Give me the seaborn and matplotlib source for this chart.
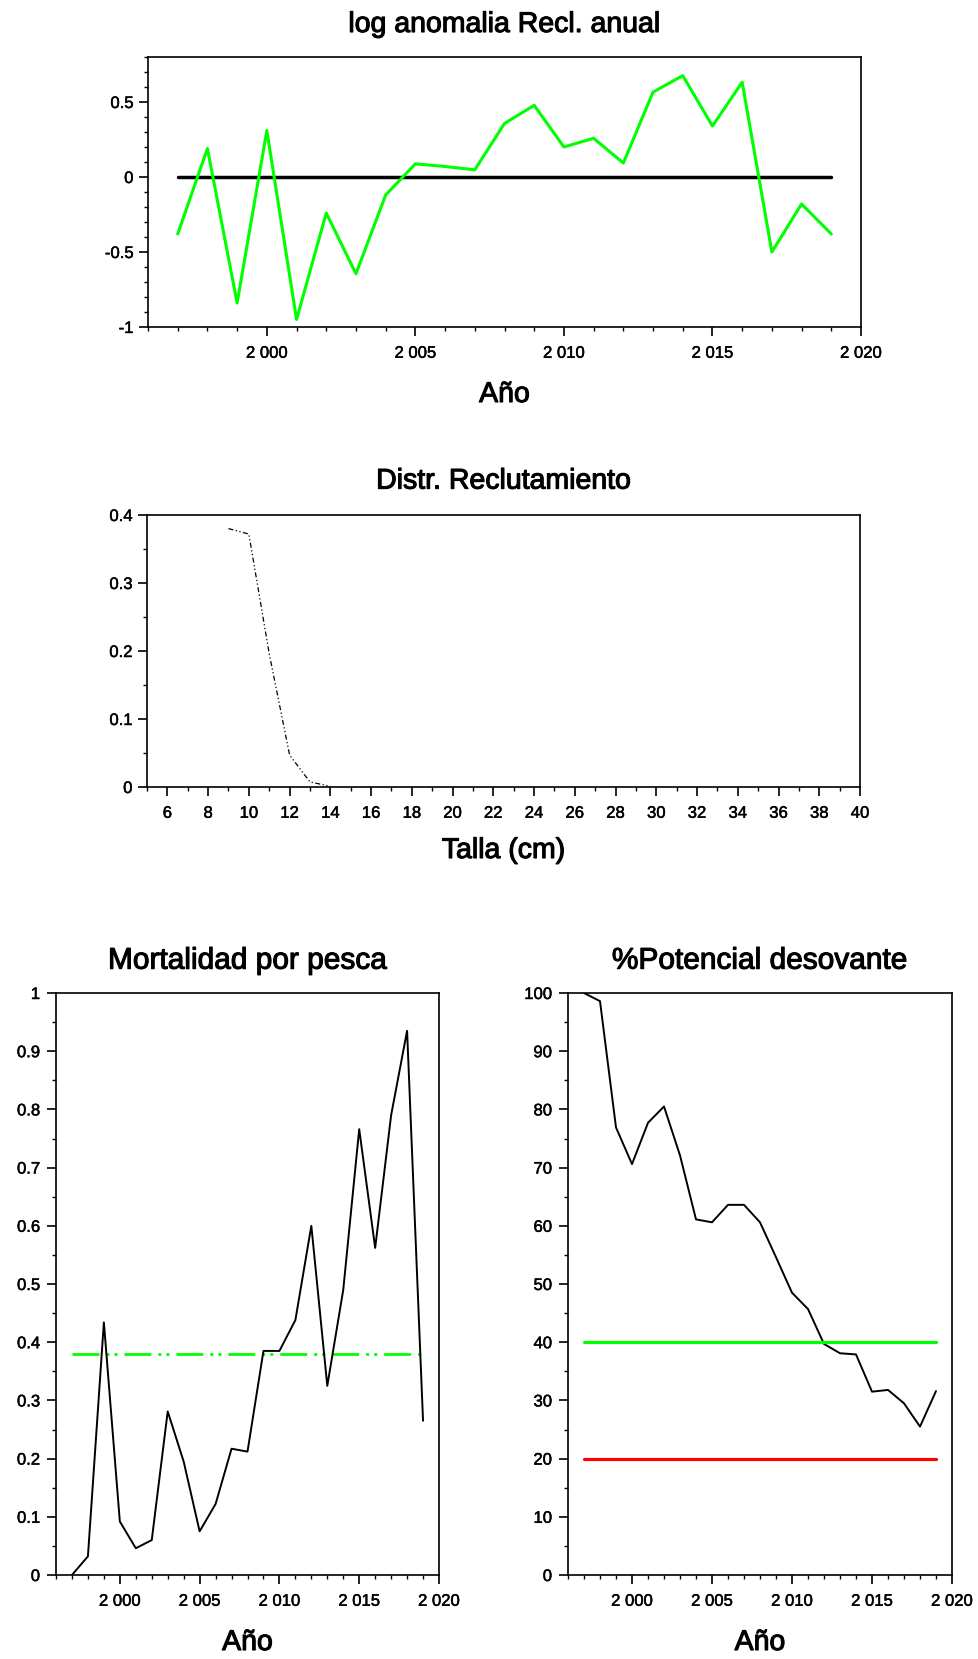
import matplotlib
matplotlib.use("Agg")
import matplotlib.pyplot as plt
import matplotlib.patheffects as pe
from matplotlib.ticker import MultipleLocator, FuncFormatter
import seaborn as sns

# ---- data -------------------------------------------------------------
years = list(range(1997, 2020))

log_anom = [-0.38, 0.19, -0.84, 0.31, -0.95, -0.24, -0.645, -0.12, 0.088, 0.07,
            0.048, 0.357, 0.478, 0.20, 0.258, 0.093, 0.566, 0.676, 0.34, 0.632,
            -0.50, -0.18, -0.38]

talla = [9, 10, 11, 12, 13, 14]
recl = [0.38, 0.372, 0.196, 0.047, 0.0075, 0.001]

mort = [0.0, 0.032, 0.434, 0.092, 0.046, 0.06, 0.281, 0.195, 0.075, 0.122,
        0.217, 0.212, 0.385, 0.385, 0.438, 0.60, 0.325, 0.49, 0.766, 0.562,
        0.79, 0.935, 0.265]
f_ref = 0.38

spr = [100, 98.6, 76.9, 70.6, 77.7, 80.5, 72.1, 61.1, 60.6, 63.6, 63.6, 60.6,
       54.6, 48.5, 45.7, 39.7, 38.1, 37.9, 31.5, 31.8, 29.5, 25.5, 31.6]
spr_target = 40
spr_limit = 20

titles = ["log anomalia Recl. anual", "Distr. Reclutamiento",
          "Mortalidad por pesca", "%Potencial desovante"]
xlabels = ["Año", "Talla (cm)", "Año", "Año"]

# ---- style ------------------------------------------------------------
sns.set_theme(style="white")
plt.rcParams["font.family"] = ["Liberation Sans", "DejaVu Sans"]
plt.rcParams["axes.unicode_minus"] = False
plt.rcParams["axes.edgecolor"] = "black"
plt.rcParams["axes.linewidth"] = 1.2

W, H = 979, 1659
DPI = 100
fig = plt.figure(figsize=(W / DPI, H / DPI), dpi=DPI)
fig.patch.set_facecolor("white")


def add_axes_px(left, top, right, bottom):
    return fig.add_axes([left / W, 1 - bottom / H, (right - left) / W, (bottom - top) / H])


GREEN = "#00ff00"
RED = "#ff0000"

year_fmt = FuncFormatter(lambda v, p: f"{int(round(v)):,}".replace(",", " "))
num_fmt = FuncFormatter(lambda v, p: f"{round(v, 6):g}")

heavy = [pe.withStroke(linewidth=0.8, foreground="black")]
semi = [pe.withStroke(linewidth=0.35, foreground="black")]


def style_axes(ax, title, title_pad, xlabel, xlabel_off, title_size=20.5,
               xpad=7, ypad=4):
    for s in ax.spines.values():
        s.set_visible(True)
        s.set_color("black")
        s.set_linewidth(1.2)
    ax.tick_params(which="major", direction="out", length=6.5, width=1.2,
                   colors="black", labelsize=12, bottom=True, left=True,
                   top=False, right=False)
    ax.tick_params(axis="x", which="major", pad=xpad)
    ax.tick_params(axis="y", which="major", pad=ypad)
    ax.tick_params(which="minor", direction="out", length=3, width=1.0,
                   colors="black", bottom=True, left=True, top=False, right=False)
    t = ax.set_title(title, fontsize=title_size, pad=title_pad, color="black")
    t.set_path_effects(heavy)
    xl = ax.set_xlabel(xlabel, fontsize=20.5, color="black", va="baseline")
    xl.set_path_effects(heavy)
    ax.xaxis.set_label_coords(0.5, xlabel_off)
    ax.set_ylabel("")
    ax.grid(False)
    for lab in ax.get_xticklabels() + ax.get_yticklabels():
        lab.set_path_effects(semi)


# ---- panel 1: log anomaly ---------------------------------------------
ax1 = add_axes_px(148, 57, 861, 327)
sns.lineplot(x=[years[0], years[-1]], y=[0, 0], ax=ax1, color="black", linewidth=2.5)
sns.lineplot(x=years, y=log_anom, ax=ax1, color=GREEN, linewidth=2.2)
ax1.set_xlim(1996, 2020)
ax1.set_ylim(-1, 0.8)
ax1.xaxis.set_major_locator(MultipleLocator(5))
ax1.xaxis.set_minor_locator(MultipleLocator(1))
ax1.yaxis.set_major_locator(MultipleLocator(0.5))
ax1.yaxis.set_minor_locator(MultipleLocator(0.1))
ax1.xaxis.set_major_formatter(year_fmt)
ax1.yaxis.set_major_formatter(num_fmt)
style_axes(ax1, titles[0], 18, xlabels[0], -75 / 270)

# ---- panel 2: recruitment distribution -------------------------------
ax2 = add_axes_px(147, 515, 860, 787)
sns.lineplot(x=talla, y=recl, ax=ax2, color="black", linewidth=0.9,
             linestyle=(0, (4.0, 2.0, 1.0, 2.0, 1.0, 2.0)))
ax2.set_xlim(5, 40)
ax2.set_ylim(0, 0.4)
ax2.xaxis.set_major_locator(MultipleLocator(2))
ax2.xaxis.set_minor_locator(MultipleLocator(1))
ax2.yaxis.set_major_locator(MultipleLocator(0.1))
ax2.yaxis.set_minor_locator(MultipleLocator(0.05))
ax2.xaxis.set_major_formatter(num_fmt)
ax2.yaxis.set_major_formatter(num_fmt)
style_axes(ax2, titles[1], 19, xlabels[1], -71 / 272)

# ---- panel 3: fishing mortality --------------------------------------
ax3 = add_axes_px(56, 993, 439, 1575)
sns.lineplot(x=[years[0], years[-1]], y=[f_ref, f_ref], ax=ax3, color=GREEN,
             linewidth=2.0, linestyle=(0, (9.7, 2.5, 1.1, 1.8, 1.1, 2.5)))
sns.lineplot(x=years, y=mort, ax=ax3, color="black", linewidth=1.4)
ax3.set_xlim(1996, 2020)
ax3.set_ylim(0, 1)
ax3.xaxis.set_major_locator(MultipleLocator(5))
ax3.xaxis.set_minor_locator(MultipleLocator(1))
ax3.yaxis.set_major_locator(MultipleLocator(0.1))
ax3.yaxis.set_minor_locator(MultipleLocator(0.05))
ax3.xaxis.set_major_formatter(year_fmt)
ax3.yaxis.set_major_formatter(num_fmt)
style_axes(ax3, titles[2], 17.5, xlabels[2], -75 / 582, title_size=21.5, ypad=5)

# ---- panel 4: spawning potential -------------------------------------
ax4 = add_axes_px(568, 993, 952, 1575)
sns.lineplot(x=years, y=spr, ax=ax4, color="black", linewidth=1.4)
sns.lineplot(x=[years[0], years[-1]], y=[spr_target, spr_target], ax=ax4,
             color=GREEN, linewidth=2.3)
sns.lineplot(x=[years[0], years[-1]], y=[spr_limit, spr_limit], ax=ax4,
             color=RED, linewidth=2.3)
ax4.set_xlim(1996, 2020)
ax4.set_ylim(0, 100)
ax4.xaxis.set_major_locator(MultipleLocator(5))
ax4.xaxis.set_minor_locator(MultipleLocator(1))
ax4.yaxis.set_major_locator(MultipleLocator(10))
ax4.yaxis.set_minor_locator(MultipleLocator(5))
ax4.xaxis.set_major_formatter(year_fmt)
ax4.yaxis.set_major_formatter(num_fmt)
style_axes(ax4, titles[3], 17.5, xlabels[3], -75 / 582, title_size=21.5, ypad=5)

for ax in (ax1, ax2, ax3, ax4):
    leg = ax.get_legend()
    if leg is not None:
        leg.remove()
    # tick labels are created lazily; apply the stroke after they exist
    fig.canvas.draw()
    for lab in ax.get_xticklabels() + ax.get_yticklabels():
        lab.set_path_effects(semi)

fig.savefig("out.png", dpi=DPI, facecolor="white")
